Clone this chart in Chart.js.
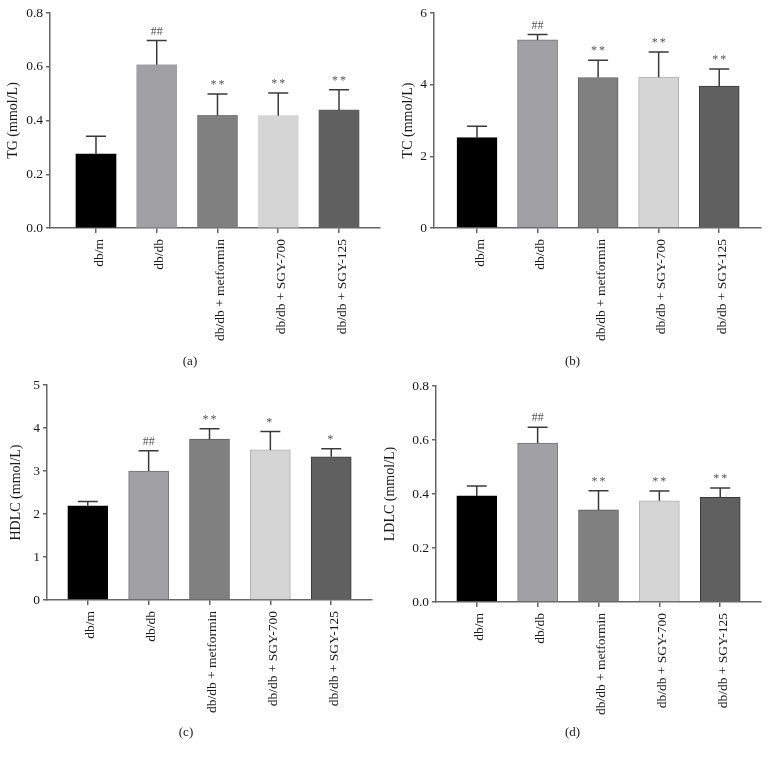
<!DOCTYPE html>
<html>
<head>
<meta charset="utf-8">
<script src="https://cdn.jsdelivr.net/npm/chart.js@4.4.1/dist/chart.umd.min.js"></script>
<style>
	body { margin: 0; background: #fff; }
	#wrap { position: relative; width: 769px; height: 759px; }
	canvas { position: absolute; }
</style>
</head>
<body>
<div id="wrap">
	<canvas id="chartA" width="384" height="380" style="left:0px;top:0px"></canvas>
	<canvas id="chartB" width="385" height="380" style="left:384px;top:0px"></canvas>
	<canvas id="chartC" width="384" height="387" style="left:0px;top:372px"></canvas>
	<canvas id="chartD" width="385" height="387" style="left:384px;top:372px"></canvas>
</div>
<script>
// groups on the x axis
var groups = ["db/m", "db/db", "db/db + metformin", "db/db + SGY-700", "db/db + SGY-125"];

// means and upper error (SD)
var tgMean = [0.275, 0.607, 0.419, 0.418, 0.439];
var tgErr = [0.066, 0.091, 0.080, 0.084, 0.075];
var tgSig = ["", "##", "**", "**", "**"];

var tcMean = [2.52, 5.25, 4.20, 4.21, 3.96];
var tcErr = [0.32, 0.15, 0.48, 0.70, 0.48];
var tcSig = ["", "##", "**", "**", "**"];

var hdlcMean = [2.19, 3.00, 3.74, 3.49, 3.33];
var hdlcErr = [0.10, 0.47, 0.24, 0.43, 0.19];
var hdlcSig = ["", "##", "**", "*", "*"];

var ldlcMean = [0.393, 0.589, 0.341, 0.375, 0.388];
var ldlcErr = [0.037, 0.058, 0.071, 0.036, 0.034];
var ldlcSig = ["", "##", "**", "**", "**"];

var barColors = ["#000000", "#a1a1a5", "#808080", "#d5d5d5", "#606060"];
var barBorders = ["#000000", "#737376", "#5e5e5e", "#b0b0b0", "#3a3a3a"];

var axisColor = "#666666";
var textColor = "#1a1a1a";
var fontFamily = "'Liberation Serif', 'DejaVu Serif', serif";

var errorBars = {
	id: "errorBars",
	afterDatasetsDraw: function(chart, args, opts) {
		var ctx = chart.ctx;
		var yScale = chart.scales.y;
		var meta = chart.getDatasetMeta(0);
		ctx.save();
		meta.data.forEach(function(bar, i) {
			var top = yScale.getPixelForValue(opts.mean[i] + opts.err[i]);
			ctx.strokeStyle = "#3a3a3a";
			ctx.lineWidth = 1.5;
			ctx.beginPath();
			ctx.moveTo(bar.x, bar.y);
			ctx.lineTo(bar.x, top);
			ctx.moveTo(bar.x - 10, top);
			ctx.lineTo(bar.x + 10, top);
			ctx.stroke();
			if (opts.sig[i]) {
				ctx.fillStyle = "#555555";
				ctx.font = "12px " + fontFamily;
				ctx.textAlign = "center";
				ctx.textBaseline = "bottom";
				ctx.letterSpacing = opts.sig[i].charAt(0) == "*" ? "2px" : "0px";
				ctx.fillText(opts.sig[i], bar.x + (opts.sig[i] == "**" ? 1 : 0), top - 3);
			}
		});
		ctx.restore();
	}
};

function makeChart(p) {
	var titleH = 13 * 1.2;
	var xHeight = p.labelY - titleH / 2 - p.area.b;
	var padBottom = p.h - p.labelY - titleH / 2;

	return new Chart(document.getElementById(p.id), {
		type: "bar",
		data: {
			datasets: [{
				data: p.mean.map(function(v, i) { return { x: i, y: v }; }),
				backgroundColor: barColors,
				borderColor: barBorders,
				borderWidth: p.border,
				borderSkipped: "bottom",
				barThickness: 40
			}]
		},
		options: {
			responsive: false,
			animation: false,
			layout: {
				padding: { left: 0, top: p.area.t, right: p.w - p.area.r, bottom: padBottom }
			},
			plugins: {
				legend: { display: false },
				tooltip: { enabled: false },
				title: {
					display: true,
					position: "bottom",
					text: p.label,
					color: textColor,
					padding: 0,
					font: { family: fontFamily, size: 13, weight: "normal", lineHeight: 1.2 }
				},
				errorBars: { mean: p.mean, err: p.err, sig: p.sig }
			},
			scales: {
				x: {
					type: "linear",
					offset: false,
					min: p.xMin,
					max: p.xMax,
					afterBuildTicks: function(scale) {
						scale.ticks = groups.map(function(g, i) { return { value: i }; });
					},
					afterFit: function(scale) { scale.height = xHeight; },
					ticks: {
						autoSkip: false,
						minRotation: 90,
						maxRotation: 90,
						padding: 6,
						labelOffset: 3,
						color: textColor,
						font: { family: fontFamily, size: 13.5 },
						callback: function(v) { return groups[v]; }
					},
					grid: { offset: false, drawOnChartArea: false, tickLength: 5, color: axisColor, lineWidth: 1.5 },
					border: { color: axisColor, width: 1.5 }
				},
				y: {
					min: 0,
					max: p.yMax,
					afterFit: function(scale) { scale.width = p.area.l; },
					ticks: {
						stepSize: p.yStep,
						padding: 3,
						color: textColor,
						font: { family: fontFamily, size: 13.5 },
						callback: function(v) { return v.toFixed(p.decimals); }
					},
					grid: { drawOnChartArea: false, tickLength: 4, color: axisColor, lineWidth: 1.5 },
					border: { color: axisColor, width: 1.5 },
					title: {
						display: true,
						text: p.yTitle,
						color: textColor,
						padding: { top: p.titlePad, bottom: 0 },
						font: { family: fontFamily, size: 14, lineHeight: 1.2 }
					}
				}
			}
		},
		plugins: [errorBars]
	});
}

makeChart({ id: "chartA", w: 384, h: 380, area: { l: 50, t: 13, r: 380, b: 228 }, labelY: 362,
	xMin: -0.757, xMax: 4.675, yMax: 0.8, yStep: 0.2, decimals: 1, yTitle: "TG (mmol/L)", titlePad: 4.6,
	label: "(a)", border: 0, mean: tgMean, err: tgErr, sig: tgSig });

makeChart({ id: "chartB", w: 385, h: 380, area: { l: 50, t: 13, r: 377, b: 228 }, labelY: 362,
	xMin: -0.71, xMax: 4.69, yMax: 6, yStep: 2, decimals: 0, yTitle: "TC (mmol/L)", titlePad: 15.6,
	label: "(b)", border: 1, mean: tcMean, err: tcErr, sig: tcSig });

makeChart({ id: "chartC", w: 384, h: 387, area: { l: 47, t: 13, r: 372, b: 228 }, labelY: 361,
	xMin: -0.67, xMax: 4.67, yMax: 5, yStep: 1, decimals: 0, yTitle: "HDLC (mmol/L)", titlePad: 7.6,
	label: "(c)", border: 1, mean: hdlcMean, err: hdlcErr, sig: hdlcSig });

makeChart({ id: "chartD", w: 385, h: 387, area: { l: 52, t: 14, r: 377, b: 230 }, labelY: 361,
	xMin: -0.67, xMax: 4.67, yMax: 0.8, yStep: 0.2, decimals: 1, yTitle: "LDLC (mmol/L)", titlePad: -2.4,
	label: "(d)", border: 1, mean: ldlcMean, err: ldlcErr, sig: ldlcSig });
</script>
</body>
</html>
